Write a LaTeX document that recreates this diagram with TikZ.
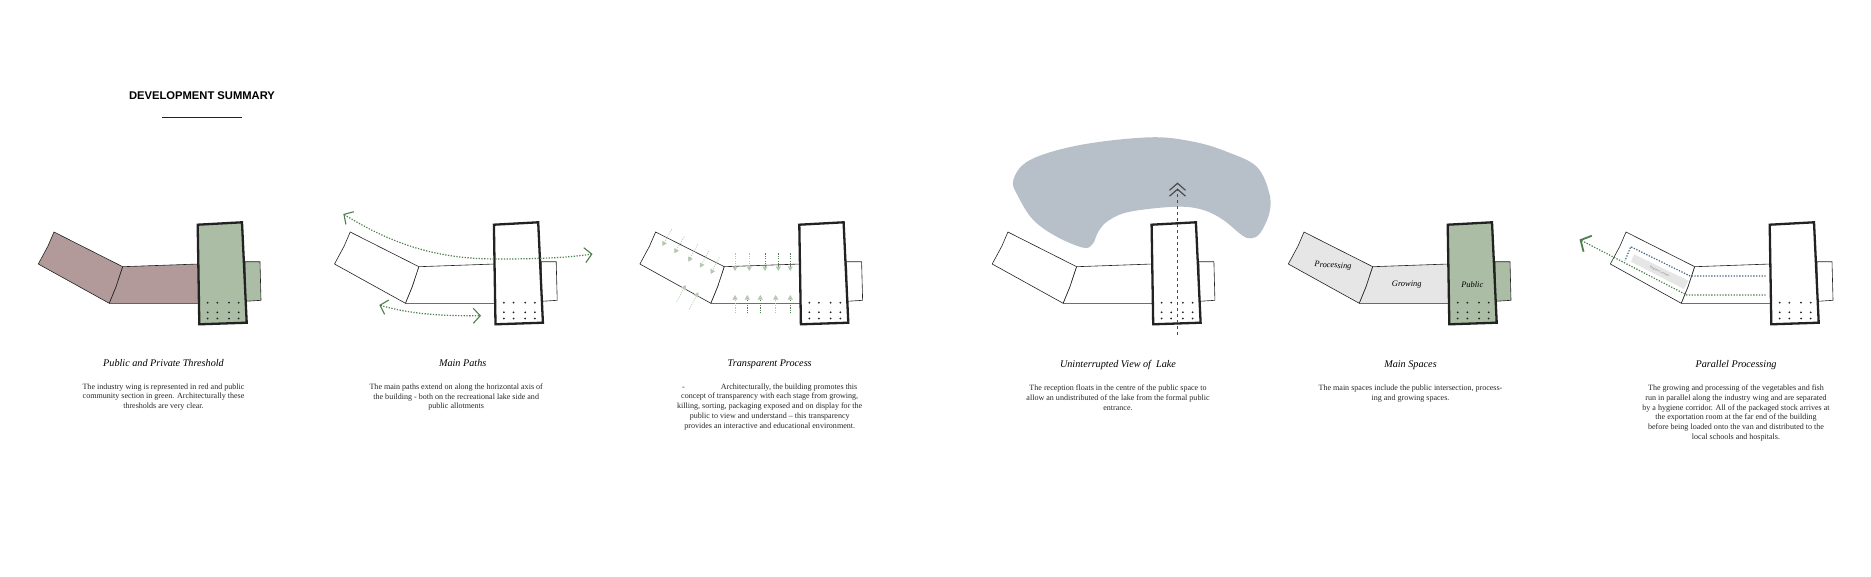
\documentclass[tikz,border=0pt]{standalone}
\usepackage{fontspec}
\setmainfont{Liberation Serif}
\setsansfont{Liberation Sans}
\usetikzlibrary{arrows.meta, positioning}

\definecolor{planred}{HTML}{B39A9A}
\definecolor{plangreen}{HTML}{ABBDA5}
\definecolor{plangrey}{HTML}{E6E6E6}
\definecolor{lakeblue}{HTML}{B7C0C9}
\definecolor{pathgreen}{HTML}{4F7F4F}
\definecolor{palegreen}{HTML}{B5C8B0}
\definecolor{pipeblue}{HTML}{47637F}
\definecolor{planink}{HTML}{222222}

% #1 shift, #2 wing fill, #3 front fill
\newcommand{\buildingplan}[3]{
  \begin{scope}[xshift=#1pt]
    \draw[wing, fill=#3] (245,261.7) -- (260,261.7) -- (261,300.3) -- (245.6,301.3) -- cycle;
    \draw[wing, fill=#2] (54,232) -- (48,246) -- (38.3,264) -- (109.3,303.3) -- (116,287) -- (122.7,266.7) -- cycle;
    \draw[wing, fill=#2] (122.7,266.7) -- (198.7,264) -- (198.7,303.3) -- (109.3,303.3) -- (116,287) -- cycle;
    \draw[block, fill=#3] (197.7,224.7) -- (242,222.3) -- (246.7,322.7) -- (199.3,324.3) -- cycle;
    \foreach \px in {207.7,217.3,229,238.7}
      \foreach \py in {302.7,312.3,318.5}
        \fill[planink] (\px,\py) circle (1);
  \end{scope}
}

\begin{document}
\begin{tikzpicture}[
    x=1pt, y=-1pt,
    wing/.style={draw=planink, line width=0.6pt, line join=round},
    block/.style={draw=planink, line width=2.3pt, line join=miter},
    heading/.style={font=\fontsize{10.2}{12}\selectfont\itshape, text=black, inner sep=0pt, text height=7pt, text depth=2.5pt},
    caption/.style={font=\fontsize{8.05}{9.8}\selectfont, text=black!85, align=center, inner sep=0pt, below=14.4pt of #1},
    roomlabel/.style={font=\fontsize{8.4}{10}\selectfont\itshape, text=black, inner sep=0pt},
    route/.style={draw=pathgreen, line width=1.2pt, dash pattern=on 1.3pt off 1.5pt, {Straight Barb[length=7pt,width=15pt,line width=1.1pt]}-{Straight Barb[length=7pt,width=15pt,line width=1.1pt]}},
    sightline/.style={draw=black!70, line width=1.1pt, dashed, -{Straight Barb[length=7pt,width=16pt,line width=1.2pt,sep=-2.5pt]. Straight Barb[length=7pt,width=16pt,line width=1.2pt]}},
    viewpale/.style={palegreen, line width=0.7pt, dash pattern=on 1.2pt off 1.2pt, -{Triangle[length=4.5pt,width=5pt,fill=palegreen]}},
    viewdark/.style={pathgreen, line width=0.7pt, dash pattern=on 1.2pt off 1.2pt, -{Triangle[length=4.5pt,width=5pt,fill=palegreen,color=palegreen]}},
    pipe/.style={line width=1.2pt, dash pattern=on 1.3pt off 1.5pt}
]
\useasboundingbox (0,0) rectangle (1871,576);

% title
\node[font=\fontsize{11.2}{13}\selectfont\sffamily\bfseries, text=black, inner sep=0pt] (sumtitle) at (202,96) {DEVELOPMENT SUMMARY};
\coordinate (ruleleft) at (162,117);
\coordinate (ruleright) at (242,117);
\draw[planink, line width=1pt] (ruleleft) -- (ruleright);

% lake goes under plan 4
\fill[lakeblue] plot[smooth cycle, tension=0.6] coordinates {(1150,137.3) (1080,145) (1030,160) (1013.3,180) (1018.3,196.7) (1033.3,220) (1056.7,236.7) (1083.3,247.7) (1092.7,244) (1098.3,231.7) (1108.3,220.7) (1130,211.7) (1176.7,206.7) (1203.3,210) (1223.3,220) (1241.7,235) (1250.7,238.3) (1260,233.3) (1269.3,213.3) (1269.3,193.3) (1256.7,166.7) (1226.7,151.7) (1193.3,141.7)};

% plans
\buildingplan{0}{planred}{plangreen}
\buildingplan{296.2}{white}{white}
\buildingplan{601.6}{white}{white}
\buildingplan{953.9}{white}{white}
\buildingplan{1250}{plangrey}{plangreen}
\buildingplan{1572}{white}{white}

% main paths
\coordinate (northw) at (343.3,214);
\coordinate (northm) at (496.7,259);
\coordinate (northe) at (592.5,254);
\coordinate (southw) at (379.3,305);
\coordinate (southe) at (481,315.7);
\draw[route] (northw) .. controls (395,246) and (440,259) .. (northm) .. controls (535,259) and (565,258) .. (northe);
\draw[route] (southw) .. controls (410,314) and (440,316) .. (southe);

% transparency arrows
\foreach \xa/\ya/\xb/\yb in {671.7/229.3/662.3/246, 684.3/236.7/674.3/253.3, 697.7/244.3/688.3/261.7, 708.7/251/700/267.7, 719.3/257.3/710.7/274, 676.7/301.7/685.7/285, 689.3/309.3/698.3/292.3, 735/253.3/735/271, 749.3/253.3/749.3/271, 735/313.3/735/295, 775.7/313.3/775.7/295}
  \draw[viewpale] (\xa,\ya) -- (\xb,\yb);
\foreach \xa/\ya/\xb/\yb in {765/253.3/765/271, 778.3/253.3/778.3/271, 790.3/253.3/790.3/271, 747.3/313.3/747.3/295, 760.3/313.3/760.3/295, 790.3/313.3/790.3/295}
  \draw[viewdark] (\xa,\ya) -- (\xb,\yb);

% view to the lake
\coordinate (viewfoot) at (1177.5,335);
\coordinate (viewtip) at (1177.5,182.5);
\draw[sightline] (viewfoot) -- (viewtip);

% room names
\node[roomlabel, rotate=-3] (roomproc) at (1333,266) {Processing};
\node[roomlabel] (roomgrow) at (1406.7,285) {Growing};
\node[roomlabel] (roompub) at (1472.3,285) {Public};

% parallel processing
\fill[plangrey] (1634,254.3) -- (1688.3,280.7) -- (1684,289) -- (1631,261.7) -- cycle;
\node[font=\fontsize{3}{3}\selectfont, text=black!55, rotate=-26, inner sep=0pt] (corridor) at (1659.5,271.5) {Hygiene Corridor};
\coordinate (fisha) at (1765.7,276);
\coordinate (fishb) at (1690,276);
\coordinate (fishc) at (1630.7,246.7);
\coordinate (fishd) at (1625,260.7);
\coordinate (vega) at (1765.7,295);
\coordinate (vegb) at (1686.7,295);
\coordinate (vegc) at (1579.5,239.5);
\draw[pipe, pipeblue] (fisha) -- (fishb) -- (fishc) -- (fishd);
\draw[pipe, pathgreen, -{Straight Barb[length=8pt,width=18pt,line width=1.8pt]}] (vega) -- (vegb) -- (vegc);

% captions
\node[heading] (head1) at (163.5,364) {Public and Private Threshold};
\node[caption=head1] (cap1) {The industry wing is represented in red and public\\community section in green. Architecturally these\\thresholds are very clear.};
\node[heading] (head2) at (462.7,364) {Main Paths};
\node[caption=head2, xshift=-6.5pt] (cap2) {The main paths extend on along the horizontal axis of\\the building - both on the recreational lake side and\\public allotments};
\node[heading] (head3) at (769.7,364) {Transparent Process};
\node[caption=head3] (cap3) {-\hspace{36pt}Architecturally, the building promotes this\\concept of transparency with each stage from growing,\\killing, sorting, packaging exposed and on display for the\\public to view and understand --  this transparency\\provides an interactive and educational environment.};
\node[heading] (head4) at (1118,365.3) {Uninterrupted View of\ \ Lake};
\node[caption=head4] (cap4) {The reception floats in the centre of the public space to\\allow an undistributed of the lake from the formal public\\entrance.};
\node[heading] (head5) at (1410.5,365.3) {Main Spaces};
\node[caption=head5] (cap5) {The main spaces include the public intersection, process-\\ing and growing spaces.};
\node[heading] (head6) at (1736,365.3) {Parallel Processing};
\node[caption=head6] (cap6) {The growing and processing of the vegetables and fish\\run in parallel along the industry wing and are separated\\by a hygiene corridor. All of the packaged stock arrives at\\the exportation room at the far end of the building\\before being loaded onto the van and distributed to the\\local schools and hospitals.};
\end{tikzpicture}
\end{document}
